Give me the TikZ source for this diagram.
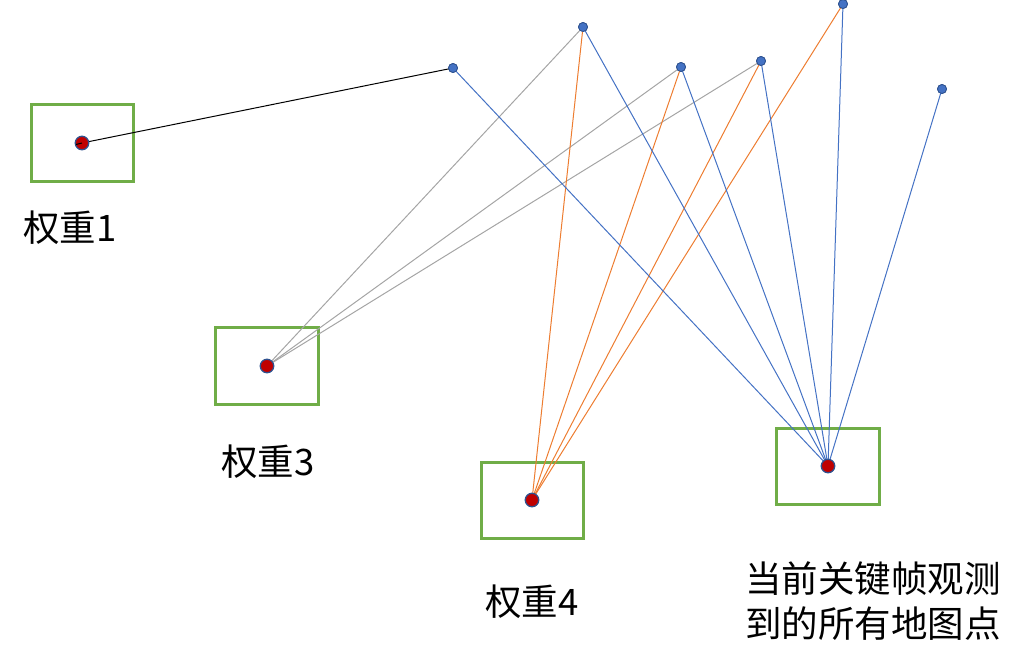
\documentclass[tikz,border=0pt]{standalone}
\usepackage{fontspec}
\setmainfont{Noto Sans CJK SC}
\definecolor{pblue}{HTML}{4472C4}
\definecolor{pdark}{HTML}{2F528F}
\definecolor{porange}{HTML}{ED7D31}
\definecolor{pgray}{HTML}{A5A5A5}
\definecolor{pgreen}{HTML}{70AD47}
\definecolor{pred}{HTML}{C00000}
\begin{document}
\begin{tikzpicture}[x=1pt,y=-1pt,
  mappt/.style={circle,fill=pblue,draw=pdark,line width=0.8pt,inner sep=0pt,minimum size=9pt},
  kfpt/.style={circle,fill=pred,draw=pdark,line width=1.3pt,inner sep=0pt,minimum size=13.5pt},
  kfbox/.style={draw=pgreen,line width=3pt},
  lbl/.style={font=\fontsize{36.5}{45}\selectfont,align=center,inner sep=0pt},
  bl/.style={pblue,line width=1pt},
  ol/.style={porange,line width=1pt},
  gl/.style={pgray,line width=1pt},
  kl/.style={black,line width=1pt}]
\useasboundingbox (0,0) rectangle (1026,665);
% map points
\node[mappt] (p1) at (453,68) {};
\node[mappt] (p2) at (583,27) {};
\node[mappt] (p3) at (681,67) {};
\node[mappt] (p4) at (761,61) {};
\node[mappt] (p5) at (843,4) {};
\node[mappt] (p6) at (942,89) {};
% boxes
\draw[kfbox] (31,104) rectangle (133,181);
\draw[kfbox] (215,327) rectangle (318,404);
\draw[kfbox] (481,462) rectangle (583,538);
\draw[kfbox] (776,428) rectangle (879,504);
% keyframe coordinates
\coordinate (k1) at (82,143);
\coordinate (k3) at (267,366);
\coordinate (k4) at (532,500);
\coordinate (kc) at (828,466);
% connectors
\draw[kl] (k1) -- (p1.center);
\foreach \p in {p2,p3,p4} \draw[gl] (k3) -- (\p.center);
\foreach \p in {p2,p3,p4,p5} \draw[ol] (k4) -- (\p.center);
\foreach \p in {p1,p2,p3,p4,p5,p6} \draw[bl] (kc) -- (\p.center);
% redraw map points on top
\foreach \p in {p1,p2,p3,p4,p5,p6} \node[mappt] at (\p) {};
% keyframe dots
\node[kfpt] (d1) at (k1) {};
\node[kfpt] (d3) at (k3) {};
\node[kfpt] (d4) at (k4) {};
\node[kfpt] (dc) at (kc) {};
\draw[kl] (k1) -- ++(-6,1.5);
% labels
\node[lbl] (l1) at (70,228) {权重1};
\node[lbl] (l3) at (268,462) {权重3};
\node[lbl] (l4) at (532,602) {权重4};
\node[lbl] (lc) at (873,601) {当前关键帧观测\\到的所有地图点};
\end{tikzpicture}
\end{document}
